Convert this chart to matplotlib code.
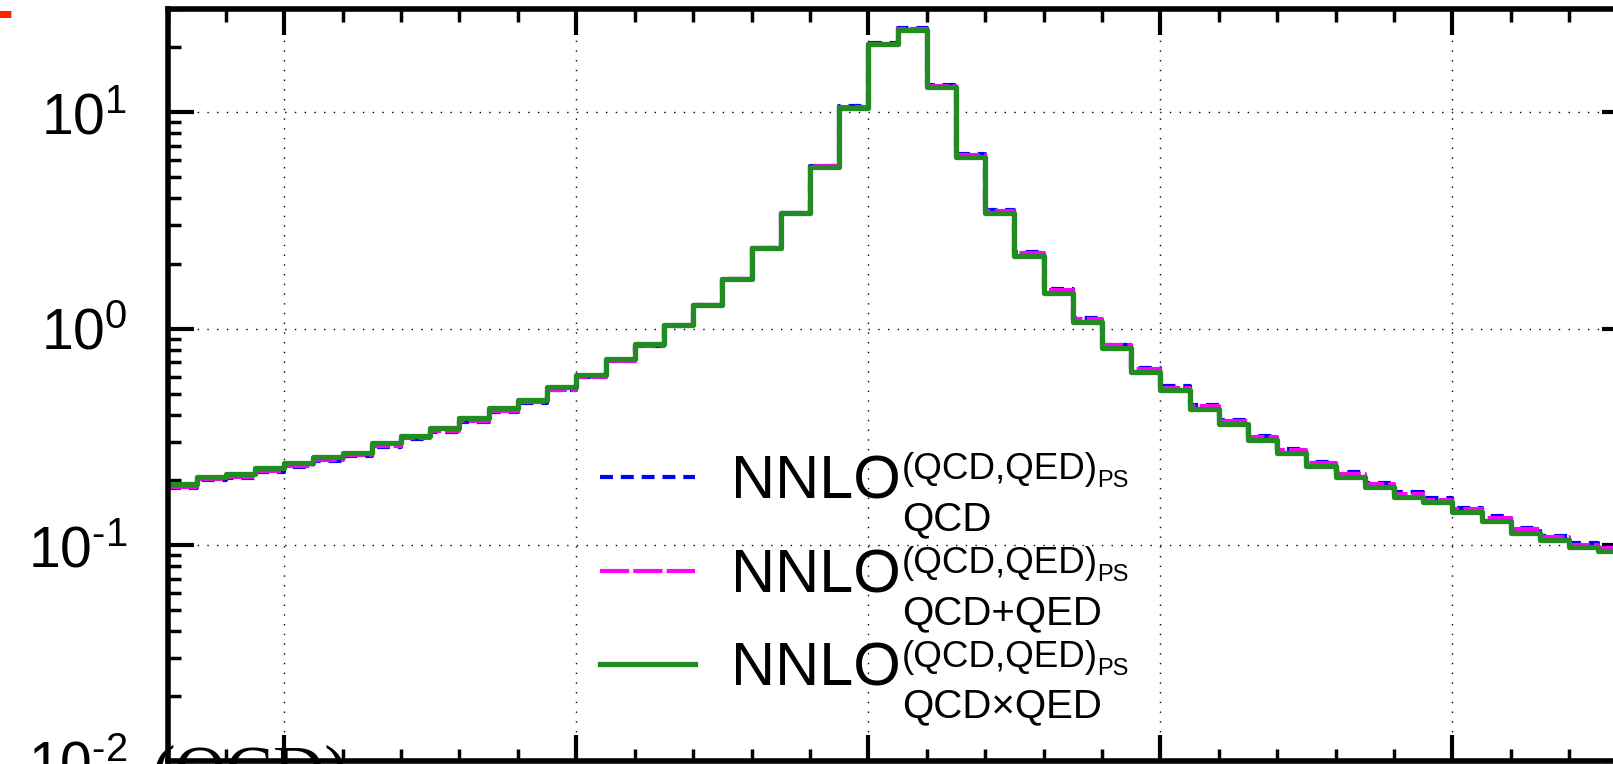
import numpy as np
import matplotlib
matplotlib.use("Agg")
import matplotlib.pyplot as plt
from matplotlib.ticker import MultipleLocator, LogLocator, NullFormatter, FuncFormatter

plt.rcParams['font.family'] = ['Liberation Sans', 'DejaVu Sans']
plt.rcParams['mathtext.fontset'] = 'custom'
plt.rcParams['mathtext.rm'] = 'Liberation Sans'
plt.rcParams['mathtext.it'] = 'Liberation Sans:italic'
plt.rcParams['mathtext.default'] = 'regular'

# 1 GeV bins from 66 to 116 GeV
bin_lo = 66
bin_hi = 116

# NNLO_QCD (blue, dashed)
nnlo_qcd = [0.184, 0.200, 0.205, 0.218, 0.230, 0.2455, 0.258, 0.285, 0.308, 0.334,
            0.372, 0.414, 0.452, 0.518, 0.595, 0.707, 0.832, 1.03, 1.28, 1.69,
            2.36, 3.43, 5.65, 10.65, 20.9, 24.5, 13.35, 6.40, 3.54, 2.25,
            1.52, 1.12, 0.845, 0.660, 0.541, 0.443, 0.378, 0.320, 0.279, 0.243,
            0.2165, 0.1945, 0.175, 0.1645, 0.148, 0.1355, 0.1204, 0.110, 0.102, 0.0975]

# NNLO_QCD+QED (magenta, long dashes)
nnlo_qcd_qed = [0.186, 0.202, 0.207, 0.220, 0.233, 0.248, 0.261, 0.288, 0.311, 0.338,
                0.376, 0.418, 0.457, 0.522, 0.598, 0.710, 0.836, 1.035, 1.283, 1.69,
                2.36, 3.42, 5.63, 10.6, 20.8, 24.4, 13.3, 6.36, 3.51, 2.23,
                1.51, 1.11, 0.837, 0.652, 0.534, 0.437, 0.373, 0.315, 0.275, 0.240,
                0.2133, 0.1917, 0.1723, 0.1623, 0.146, 0.1335, 0.1185, 0.1087, 0.1005, 0.097]

# NNLO_QCDxQED (green, solid)
nnlo_qcdxqed = [0.191, 0.207, 0.212, 0.226, 0.2386, 0.2544, 0.2672, 0.2954, 0.319, 0.3464,
                0.3853, 0.4285, 0.4682, 0.535, 0.611, 0.722, 0.847, 1.040, 1.287, 1.692,
                2.353, 3.415, 5.608, 10.51, 20.59, 24.03, 13.06, 6.237, 3.437, 2.175,
                1.467, 1.077, 0.812, 0.633, 0.518, 0.424, 0.3615, 0.306, 0.2672, 0.2326,
                0.2070, 0.1861, 0.1673, 0.1576, 0.1417, 0.1296, 0.1141, 0.1055, 0.0976, 0.0942]

legend_sub = ['QCD', 'QCD+QED', 'QCD\u00d7QED']

edges = np.arange(bin_lo, bin_hi + 1)

fig = plt.figure(figsize=(16.13, 7.64), dpi=100)
ax = fig.add_axes([167.5 / 1613, 2.6 / 764, 1460 / 1613, 752.3 / 764])


def steps(vals):
    return np.append(vals, vals[-1])


def pow10(v, pos):
    e = int(round(np.log10(v)))
    s = str(e).replace('-', '\u2010')
    return '$10^{' + s + '}$'


l1, = ax.step(edges, steps(nnlo_qcd), where='post', color='blue', lw=3,
              linestyle=(0, (3.1, 1.9)))
l2, = ax.step(edges, steps(nnlo_qcd_qed), where='post', color='magenta', lw=3,
              linestyle=(0, (7.0, 1.0)))
l3, = ax.step(edges, steps(nnlo_qcdxqed), where='post', color='forestgreen', lw=3.8)

ax.set_yscale('log')
ax.set_xlim(bin_lo, bin_hi)
ax.set_ylim(0.01, 30)

ax.xaxis.set_major_locator(MultipleLocator(10))
ax.xaxis.set_minor_locator(MultipleLocator(2))
ax.yaxis.set_major_locator(LogLocator(base=10, numticks=10))
ax.yaxis.set_major_formatter(FuncFormatter(pow10))
ax.yaxis.set_minor_locator(LogLocator(base=10, subs=np.arange(2, 10), numticks=20))
ax.yaxis.set_minor_formatter(NullFormatter())

ax.grid(True, which='major', color='black', lw=1.0, linestyle=(0, (1, 6)))

ax.tick_params(which='both', direction='in', top=True, right=True,
               labelbottom=False, labelsize=41, pad=29)
ax.tick_params(which='major', length=18.5, width=3)
ax.tick_params(which='minor', length=9, width=2.5)
for s in ax.spines.values():
    s.set_linewidth(4)

leg = ax.legend([l1, l2, l3], ['NNLO'] * 3, loc='upper left',
                bbox_to_anchor=(0.2962, 0.408), frameon=False, fontsize=44,
                handlelength=1.55, handletextpad=0.6, labelspacing=0.6,
                borderpad=0, borderaxespad=0)

# super/subscripts hung on the legend labels (drawn after the legend)
for t, sub in zip(leg.get_texts(), legend_sub):
    sup = ax.annotate('(QCD,QED)', xy=(1, 0), xycoords=t, xytext=(1, 32),
                      textcoords='offset pixels', fontsize=26.5, va='baseline',
                      ha='left', zorder=10)
    ax.annotate('PS', xy=(1, 0), xycoords=sup, xytext=(-1, 0),
                textcoords='offset pixels', fontsize=17, va='baseline',
                ha='left', zorder=11)
    ax.annotate(sub, xy=(1, 0), xycoords=t, xytext=(1, -19),
                textcoords='offset pixels', fontsize=29, va='baseline',
                ha='left', zorder=10)

# pieces of neighbouring text cut by the frame
fig.text(11 / 1613, (764 - 56) / 764, 'T', color='#ff2200', fontsize=46,
         fontweight='bold', ha='right', va='baseline')
fig.text(152 / 1613, (764 - 795) / 764, '(QCD)', family='Liberation Serif',
         fontsize=51, ha='left', va='baseline')

fig.savefig('out.png', dpi=100)
